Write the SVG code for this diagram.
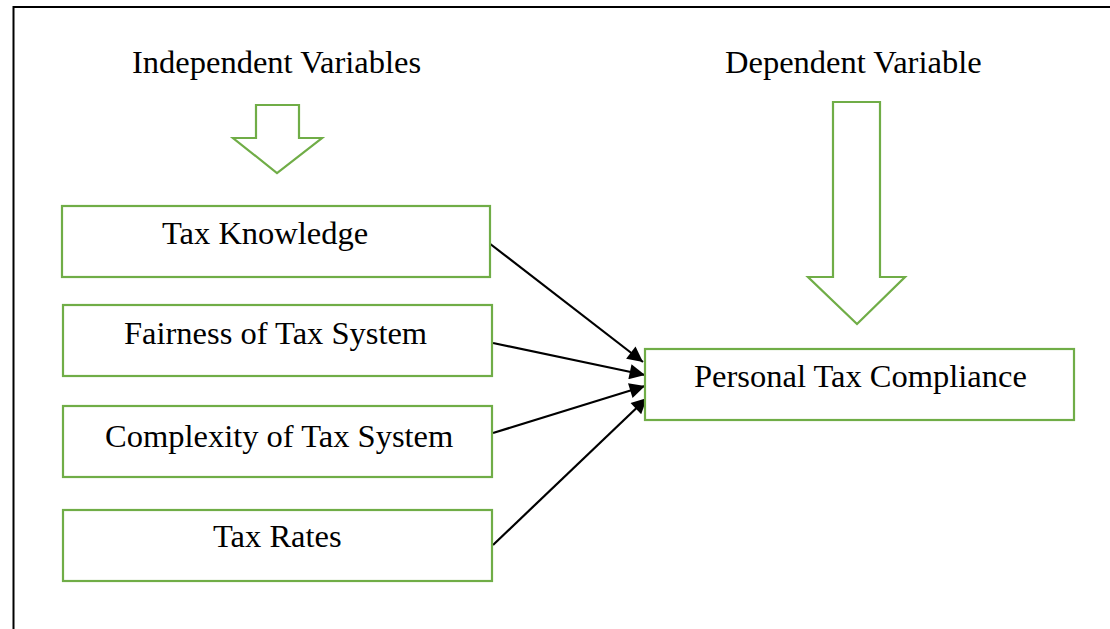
<svg xmlns="http://www.w3.org/2000/svg" width="1110" height="629" viewBox="0 0 1110 629">
  <style>
    .box { fill: #ffffff; stroke: #70ad47; stroke-width: 2.2; }
    .block { fill: #ffffff; stroke: #70ad47; stroke-width: 2.2; stroke-linejoin: miter; }
    .label { font-family: "Liberation Serif", "Times New Roman", serif; font-size: 32.5px; fill: #000000; }
    .link { stroke: #000000; stroke-width: 2.2; fill: none; marker-end: url(#head); }
  </style>
  <defs>
    <marker id="head" viewBox="0 0 10 10" refX="10" refY="5" markerWidth="8.5" markerHeight="7" markerUnits="strokeWidth" orient="auto">
      <path d="M0,0 L10,5 L0,10 Z" fill="#000000"/>
    </marker>
  </defs>

  <rect x="0" y="0" width="1110" height="629" fill="#ffffff"/>
  <!-- outer frame -->
  <path d="M13.5,629 V7 H1110" fill="none" stroke="#000000" stroke-width="2"/>

  <!-- column headings -->
  <text class="label" x="132" y="73">Independent Variables</text>
  <text class="label" x="725" y="73">Dependent Variable</text>

  <!-- block arrows -->
  <g id="arrow-independent">
    <polygon class="block" points="256,105 299,105 299,138 322,138 277,173 233,138 256,138"/>
  </g>
  <g id="arrow-dependent">
    <polygon class="block" points="833,102 880,102 880,277 905,277 857,324 808,277 833,277"/>
  </g>

  <!-- connectors -->
  <g id="connectors">
    <line class="link" x1="489" y1="243" x2="643" y2="362"/>
    <line class="link" x1="493" y1="343" x2="645" y2="375"/>
    <line class="link" x1="493" y1="433" x2="645" y2="386"/>
    <line class="link" x1="493" y1="545" x2="647" y2="398"/>
  </g>

  <g id="tax-knowledge">
    <rect class="box" x="62" y="206" width="428" height="71"/>
    <text class="label" x="162" y="244">Tax Knowledge</text>
  </g>
  <g id="fairness">
    <rect class="box" x="63" y="305" width="429" height="71"/>
    <text class="label" x="124" y="344">Fairness of Tax System</text>
  </g>
  <g id="complexity">
    <rect class="box" x="63" y="406" width="429" height="71"/>
    <text class="label" x="105" y="447">Complexity of Tax System</text>
  </g>
  <g id="tax-rates">
    <rect class="box" x="63" y="510" width="429" height="71"/>
    <text class="label" x="213" y="547">Tax Rates</text>
  </g>
  <g id="personal-compliance">
    <rect class="box" x="645" y="349" width="429" height="71"/>
    <text class="label" x="694" y="387">Personal Tax Compliance</text>
  </g>
</svg>
